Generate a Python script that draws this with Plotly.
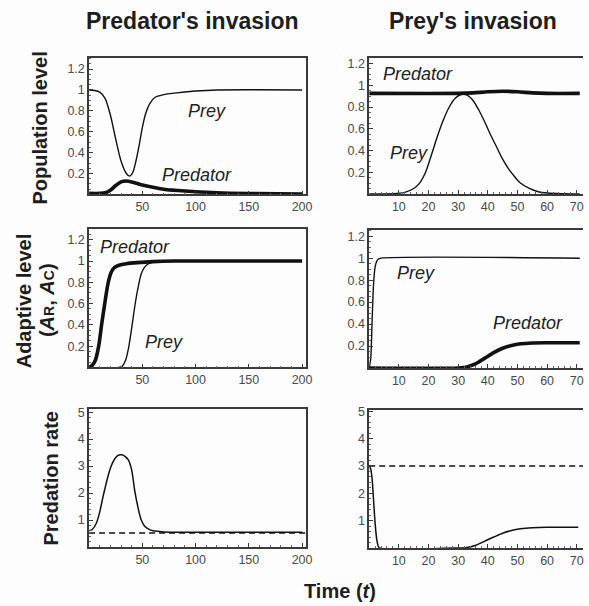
import plotly.graph_objects as go

# ---- Predator's invasion: population levels ----
t_pop_a = [0, 5, 10, 15, 20, 25, 30, 35, 38, 41, 44, 47, 50, 53, 57, 62, 70, 80, 100, 120, 200]
prey_pop_a = [1.0, 0.995, 0.98, 0.92, 0.76, 0.53, 0.32, 0.2, 0.175, 0.21, 0.32, 0.47, 0.64, 0.77, 0.87, 0.93,
              0.955, 0.97, 0.99, 1.0, 1.0]
t_pred_pop_a = [0, 10, 15, 20, 25, 30, 35, 40, 50, 60, 70, 80, 100, 120, 150, 200]
pred_pop_a = [0.01, 0.01, 0.015, 0.04, 0.085, 0.12, 0.128, 0.12, 0.09, 0.068, 0.05, 0.04, 0.025, 0.015, 0.008, 0.004]

# ---- Prey's invasion: population levels ----
t_prey_pop_b = [0, 8, 12, 15, 17, 19, 21, 23, 25, 27, 29, 31, 33, 35, 37, 39, 41, 43, 45, 47, 49, 51, 54, 57,
                60, 65, 71]
prey_pop_b = [0.0, 0.002, 0.015, 0.05, 0.1, 0.2, 0.36, 0.53, 0.68, 0.8, 0.88, 0.915, 0.91, 0.86, 0.77, 0.66,
              0.54, 0.43, 0.32, 0.23, 0.16, 0.1, 0.05, 0.02, 0.008, 0.002, 0.0]
t_pred_pop_b = [0, 30, 35, 40, 45, 50, 55, 60, 71]
pred_pop_b = [0.925, 0.925, 0.93, 0.94, 0.945, 0.94, 0.93, 0.925, 0.925]

# ---- Predator's invasion: adaptive levels ----
t_pred_ad_a = [0, 3, 6, 9, 12, 15, 18, 21, 24, 28, 35, 45, 60, 80, 200]
pred_ad_a = [0.0, 0.02, 0.07, 0.2, 0.42, 0.62, 0.8, 0.9, 0.94, 0.96, 0.975, 0.985, 0.995, 1.0, 1.0]
t_prey_ad_a = [0, 28, 31, 34, 37, 40, 43, 46, 49, 52, 55, 60, 70, 200]
prey_ad_a = [0.0, 0.0, 0.01, 0.06, 0.18, 0.37, 0.58, 0.75, 0.88, 0.94, 0.97, 0.99, 1.0, 1.0]

# ---- Prey's invasion: adaptive levels ----
t_prey_ad_b = [0, 0.5, 1, 1.5, 2, 2.5, 3, 4, 71]
prey_ad_b = [0.0, 0.08, 0.45, 0.78, 0.92, 0.97, 0.99, 1.0, 1.0]
t_pred_ad_b = [0, 30, 33, 36, 39, 42, 45, 48, 51, 55, 60, 71]
pred_ad_b = [0.0, 0.0, 0.01, 0.04, 0.09, 0.14, 0.18, 0.205, 0.22, 0.228, 0.23, 0.23]

# ---- Predation rates ----
t_rate_a = [0, 3, 7, 10, 13, 16, 19, 22, 25, 28, 31, 34, 37, 40, 43, 46, 49, 52, 56, 60, 70, 100, 200]
rate_a = [0.6, 0.65, 0.9, 1.3, 1.85, 2.35, 2.8, 3.12, 3.32, 3.41, 3.42, 3.35, 3.22, 2.85, 2.05, 1.45, 1.0,
          0.78, 0.66, 0.6, 0.56, 0.55, 0.55]
ref_rate_a = 0.52
t_rate_b = [0, 0.5, 1, 1.5, 2, 2.5, 3, 3.5, 30, 33, 36, 39, 42, 45, 48, 51, 55, 60, 70.5]
rate_b = [3.0, 2.9, 2.5, 1.7, 0.9, 0.35, 0.08, 0.0, 0.0, 0.02, 0.1, 0.25, 0.4, 0.54, 0.64, 0.7, 0.74, 0.76, 0.76]
ref_rate_b = 3.0

# axis spans and tick labels
span_a = [0, 204]
span_b = [0, 72.1]
xticks_a = [50, 100, 150, 200]
xticks_b = [10, 20, 30, 40, 50, 60, 70]
yticks_level = [0.2, 0.4, 0.6, 0.8, 1.0, 1.2]
ytext_level = ["0.2", "0.4", "0.6", "0.8", "1", "1.2"]
yticks_rate = [1, 2, 3, 4, 5]

W, H = 589, 606
FONT = "Liberation Sans, Arial, Helvetica, sans-serif"
INK = "#111111"
FRAME = "#3a3a3a"
TICKTXT = "#4a4a4a"


def px_x(p):
    return p / W


def px_y(p):
    return 1 - p / H


fig = go.Figure()

# panel layout: (xaxis id, yaxis id, x pixel span, y pixel span, x range, y range, left column?)
panels = [
    ("x", "y", (90, 309.5), (53, 191), span_a, [0, 1.31], True, "level"),
    ("x2", "y2", (373, 589), (53, 190.5), span_b, [0, 1.255], False, "level"),
    ("x3", "y3", (90, 309.5), (226, 365.5), span_a, [0, 1.30], True, "level"),
    ("x4", "y4", (373, 589), (226.5, 366), span_b, [0, 1.26], False, "level"),
    ("x5", "y5", (90, 309.5), (407, 546.5), span_a, [0, 5.13], True, "rate"),
    ("x6", "y6", (373, 589), (408, 547.5), span_b, [0, 5.06], False, "rate"),
]


def add_line(xa, ya, t, v, width, dash="solid", shape="spline"):
    fig.add_trace(go.Scatter(
        x=t, y=v, mode="lines", xaxis=xa, yaxis=ya, showlegend=False, hoverinfo="skip",
        line=dict(color=INK, width=width, dash=dash, shape=shape, smoothing=0.8),
        cliponaxis=True,
    ))


THIN, THICK = 1.4, 3.6

add_line("x", "y", t_pop_a, prey_pop_a, THIN)
add_line("x", "y", t_pred_pop_a, pred_pop_a, THICK)
add_line("x2", "y2", t_prey_pop_b, prey_pop_b, THIN)
add_line("x2", "y2", t_pred_pop_b, pred_pop_b, THICK)
add_line("x3", "y3", t_pred_ad_a, pred_ad_a, THICK)
add_line("x3", "y3", t_prey_ad_a, prey_ad_a, THIN)
add_line("x4", "y4", t_prey_ad_b, prey_ad_b, THIN)
add_line("x4", "y4", t_pred_ad_b, pred_ad_b, THICK)
add_line("x5", "y5", span_a, [ref_rate_a, ref_rate_a], 1.4, dash="6px,4px", shape="linear")
add_line("x5", "y5", t_rate_a, rate_a, 1.5)
add_line("x6", "y6", span_b, [ref_rate_b, ref_rate_b], 1.4, dash="6px,4px", shape="linear")
add_line("x6", "y6", t_rate_b, rate_b, 1.5)

layout = {}
for xa, ya, (x0, x1), (y0, y1), xr, yr, left, kind in panels:
    xk = "xaxis" + xa[1:]
    yk = "yaxis" + ya[1:]
    if left:
        xt, xminor = xticks_a, 10
    else:
        xt, xminor = xticks_b, 2
    if kind == "level":
        yt, ytxt, yminor = yticks_level, ytext_level, 0.05
    else:
        yt, ytxt, yminor = yticks_rate, [str(v) for v in yticks_rate], 0.2
    layout[xk] = dict(
        domain=[px_x(x0), px_x(x1)], range=xr, anchor=ya,
        showline=True, linecolor=FRAME, linewidth=1.6, mirror=True,
        showgrid=False, zeroline=False,
        tickmode="array", tickvals=xt, ticktext=[str(v) for v in xt],
        ticks="inside", ticklen=4, tickwidth=1, tickcolor=FRAME,
        minor=dict(ticks="inside", ticklen=2, tickwidth=0.8, tickcolor="#666666", dtick=xminor, tick0=0),
        tickfont=dict(family=FONT, size=12.5, color=TICKTXT),
        fixedrange=True,
    )
    layout[yk] = dict(
        domain=[px_y(y1), px_y(y0)], range=yr, anchor=xa,
        showline=True, linecolor=FRAME, linewidth=1.6, mirror=left,
        showgrid=False, zeroline=False,
        tickmode="array", tickvals=yt, ticktext=ytxt,
        ticks="inside", ticklen=4, tickwidth=1, tickcolor=FRAME,
        minor=dict(ticks="inside", ticklen=2, tickwidth=0.8, tickcolor="#666666", dtick=yminor, tick0=0),
        tickfont=dict(family=FONT, size=12.5, color=TICKTXT),
        fixedrange=True,
    )

annotations = []


def label(text, xa, ya, x, y, size=18):
    annotations.append(dict(
        text="<i>%s</i>" % text, xref=xa, yref=ya, x=x, y=y, showarrow=False,
        xanchor="center", yanchor="middle",
        font=dict(family=FONT, size=size, color="#222222"),
    ))


# curve labels
label("Prey", "x", "y", 111, 0.80)
label("Predator", "x", "y", 101, 0.185)
label("Predator", "x2", "y2", 16.3, 1.10)
label("Prey", "x2", "y2", 13.4, 0.38)
label("Predator", "x3", "y3", 43.3, 1.128)
label("Prey", "x3", "y3", 70, 0.243)
label("Prey", "x4", "y4", 15.9, 0.864)
label("Predator", "x4", "y4", 53.5, 0.412)


def paper_text(text, xp, yp, size, angle=0):
    annotations.append(dict(
        text=text, xref="paper", yref="paper", x=px_x(xp), y=px_y(yp), showarrow=False,
        xanchor="center", yanchor="middle", textangle=angle,
        font=dict(family=FONT, size=size, color="#1e1e1e"),
    ))


# column headings
paper_text("<b>Predator's invasion</b>", 194.5, 16, 23)
paper_text("<b>Prey's invasion</b>", 478, 16, 23)

# row headings
paper_text("<b>Population level</b>", 40, 124, 20, angle=-90)
paper_text("<b>Adaptive level</b>", 24, 298, 20, angle=-90)
paper_text("<b>(<i>A</i><span style='font-size:14px'>R</span>, <i>A</i><span style='font-size:14px'>C</span>)</b>",
           47.5, 297.5, 20, angle=-90)
paper_text("<b>Predation rate</b>", 51.5, 477.5, 20, angle=-90)

# shared time axis title
paper_text("<b>Time (<i>t</i>)</b>", 343, 591, 20)

fig.update_layout(
    width=W, height=H,
    margin=dict(l=0, r=0, t=0, b=0),
    paper_bgcolor="#fdfdfd", plot_bgcolor="#fdfdfd",
    showlegend=False,
    annotations=annotations,
    **layout,
)

fig.write_html("out.html", config=dict(displayModeBar=False))
